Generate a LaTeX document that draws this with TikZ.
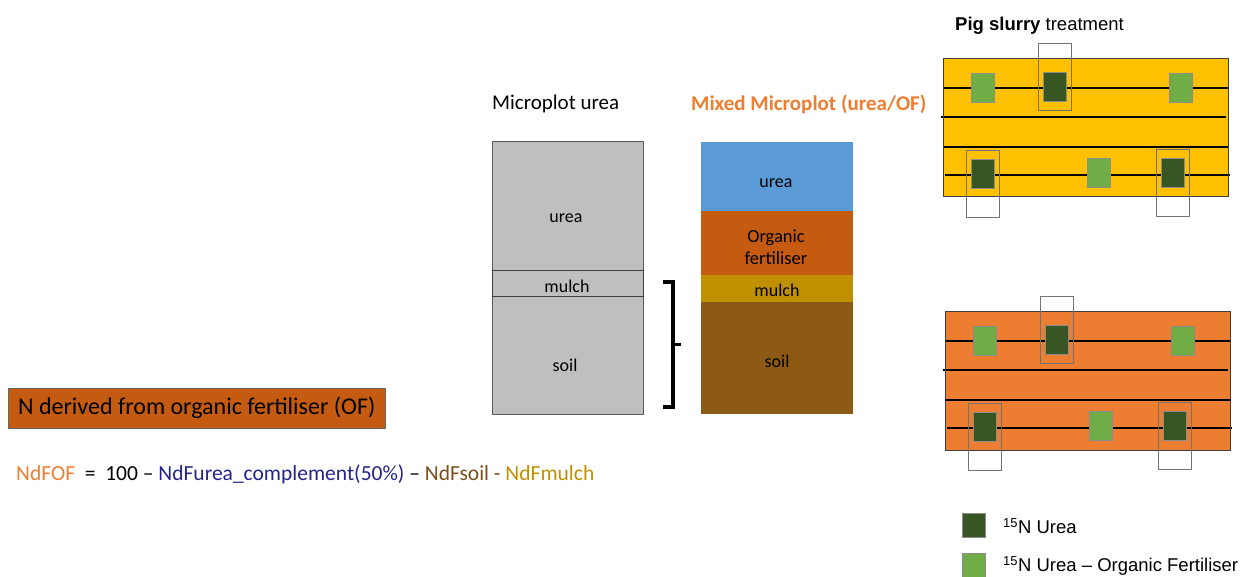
\documentclass[tikz,border=0pt]{standalone}
\usepackage{fontspec}
\setmainfont{Carlito}
\newfontfamily\arialfont{Liberation Sans}
\usetikzlibrary{positioning}

\definecolor{ureablue}{HTML}{5B9BD5}
\definecolor{ofbrown}{HTML}{C55A11}
\definecolor{mulchgold}{HTML}{BF9000}
\definecolor{soilbrown}{HTML}{8C5A14}
\definecolor{plotgray}{HTML}{BFBFBF}
\definecolor{slurry}{HTML}{FFC000}
\definecolor{ofplot}{HTML}{ED7D31}
\definecolor{darkgreen}{HTML}{375623}
\definecolor{lightgreen}{HTML}{70AD47}
\definecolor{navyf}{HTML}{23238A}
\definecolor{soiltext}{HTML}{7A4F1A}

\tikzset{
  layertext/.style={inner sep=0pt, align=center, font=\fontsize{18}{22}\selectfont},
  titletext/.style={inner sep=0pt, anchor=west, font=\fontsize{21}{25}\selectfont},
  legendtext/.style={inner sep=0pt, anchor=west, font=\arialfont\fontsize{18.5}{22}\selectfont},
  plotline/.style={black, line width=1.3pt},
  markbox/.style={draw=black!55, line width=0.8pt},
}

\begin{document}
\begin{tikzpicture}[x=1pt,y=-1pt]
  \useasboundingbox (0,0) rectangle (1242,577);

  % microplot urea
  \filldraw[fill=plotgray, draw=black!65, line width=1pt] (492,142) rectangle (643,414);
  \draw[black!75, line width=1pt] (492,271) rectangle (643,297);
  \node[titletext] (ttlurea) at (492,104) {Microplot urea};
  \node[layertext] (gurea) at (566,218) {urea};
  \node[layertext] (gmulch) at (567,286) {mulch};
  \node[layertext] (gsoil) at (565,365) {soil};

  % brace
  \draw[line width=3.6pt] (663,282) -- (673,282) -- (673,407) -- (663,407);
  \draw[line width=3.6pt] (673,344.5) -- (681,344.5);

  % mixed microplot
  \fill[ureablue] (701,142) rectangle (853,211);
  \fill[ofbrown] (701,211) rectangle (853,275);
  \fill[mulchgold] (701,275) rectangle (853,302);
  \fill[soilbrown] (701,302) rectangle (853,414);
  \node[titletext, text=ofplot, font=\bfseries\fontsize{21}{25}\selectfont] (ttlmixed) at (691,104) {Mixed Microplot (urea/OF)};
  \node[layertext] (murea) at (776,183) {urea};
  \node[layertext, font=\fontsize{18.5}{22}\selectfont] (mof) at (776,247) {Organic\\fertiliser};
  \node[layertext] (mmulch) at (777,290) {mulch};
  \node[layertext] (msoil) at (777,361) {soil};

  % N derived box and formula
  \node[draw=black!60, fill=ofbrown, minimum width=377, minimum height=40, anchor=north west,
        font=\fontsize{24}{28}\selectfont] (ofbox) at (8,388) {N derived from organic fertiliser (OF)};
  \node[inner sep=0pt, anchor=west, font=\fontsize{21.5}{25}\selectfont] (formula) at (16,474)
    {\textcolor{ofplot}{NdFOF}\ \ =\ \ 100 – \textcolor{navyf}{NdFurea\_complement(50\%)} –
     \textcolor{soiltext}{NdFsoil -} \textcolor{mulchgold}{NdFmulch}};

  % field plots
  \node[inner sep=0pt, anchor=west, font=\arialfont\fontsize{18.5}{22}\selectfont] (ttlslurry) at (955,26)
    {\textbf{Pig slurry} treatment};
  \foreach \ox/\oy/\col in {943/59/slurry, 945/312/ofplot} {
    \begin{scope}[shift={(\ox,\oy)}]
      \fill[\col] (0,0) rectangle (285,138);
      \draw[plotline] (0,29) -- (285,29);
      \draw[plotline, line width=1.6pt] (-2,58) -- (283,58);
      \draw[plotline, line width=1.6pt] (0,88) -- (285,88);
      \draw[plotline] (2,116) -- (287,116);
      \draw[black!75, line width=1pt] (0,0) rectangle (285,138);
      \foreach \sx/\sy/\sc in {28/14/lightgreen, 100/13/darkgreen, 226/14/lightgreen,
                               28/100/darkgreen, 144/99/lightgreen, 218/99/darkgreen}
        \filldraw[fill=\sc, draw=black!45, line width=0.8pt] (\sx,\sy) rectangle ++(23,29);
      \foreach \bx/\by in {95/-16, 23/91, 213/90}
        \draw[markbox] (\bx,\by) rectangle ++(33,67);
    \end{scope}
  }

  % legend
  \filldraw[fill=darkgreen, draw=black!45] (962,513) rectangle (985,537);
  \filldraw[fill=lightgreen, draw=black!45] (962,553) rectangle (985,577);
  \node[legendtext] (legurea) at (1003,526) {\textsuperscript{15}N Urea};
  \node[legendtext] (legof) at (1003,566) {\textsuperscript{15}N Urea – Organic Fertiliser};
\end{tikzpicture}
\end{document}
